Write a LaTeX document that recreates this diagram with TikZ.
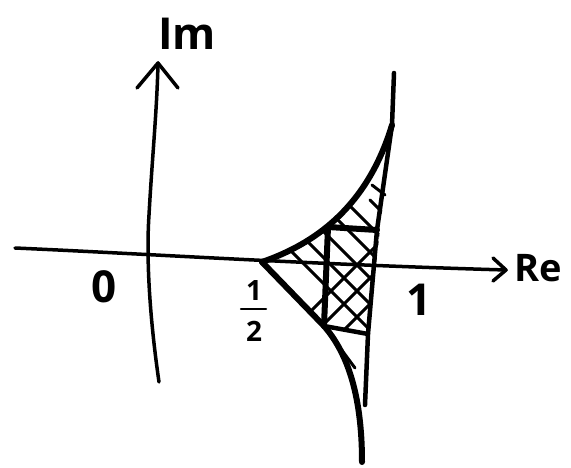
\documentclass[tikz,border=0pt]{standalone}
\usepackage{fontspec}
\setmainfont{Open Sans}
\begin{document}
\begin{tikzpicture}[x=1pt,y=-1pt, line cap=round, line join=round,
  axis/.style={line width=3.5pt},
  bold/.style={line width=6pt},
  mid/.style={line width=4.5pt},
  hatch/.style={line width=3pt},
  lab/.style={font=\fontsize{44}{44}\selectfont\bfseries, inner sep=0pt},
  small/.style={font=\fontsize{28}{28}\selectfont\bfseries, inner sep=0pt}]
\useasboundingbox (0,0) rectangle (571,468);
% axes
\coordinate (xl) at (15,248);
\coordinate (xr) at (506,270);
\coordinate (xa) at (493,258);
\coordinate (xb) at (493,281);
\draw[axis] (xl) .. controls (150,254) and (300,264) .. (xr);
\draw[axis] (xa) -- (xr) -- (xb);
\coordinate (yb) at (159,382);
\coordinate (ym) at (149,215);
\coordinate (yt) at (158,63);
\coordinate (ya) at (137,88);
\coordinate (yc) at (178,88);
\draw[axis] (yb) .. controls (150,320) and (146,260) .. (ym) .. controls (152,160) and (157,110) .. (yt);
\draw[axis] (ya) -- (yt) -- (yc);
% labels
\node[font=\fontsize{38}{38}\selectfont\bfseries, inner sep=0pt] (re) at (538,268) {Re};
\node[lab] (im) at (187,34) {Im};
\node[lab] (zero) at (104,287) {0};
\node[lab] (one) at (419,300) {1};
\node[small] (hnum) at (254,291) {1};
\node[small] (hden) at (254,331) {2};
\coordinate (fa) at (241,309);
\coordinate (fb) at (266,309);
\draw[line width=2.5pt] (fa) -- (fb);
% region points
\coordinate (H) at (262,262);
\coordinate (T) at (392,125);
\coordinate (Ttop) at (394,73);
\coordinate (R1) at (377,230);
\coordinate (R2) at (368,334);
\coordinate (Rb) at (365,405);
\coordinate (L1) at (328,227);
\coordinate (L2) at (324,326);
\coordinate (Bend) at (362,462);
% hatching
\begin{scope}
  \clip (H) .. controls (305,247) and (365,215) .. (T) -- (R2) -- (L2) -- cycle;
  \foreach \i in {0,...,8} {
    \draw[hatch] (240+\i*26,200) -- +(150,150);
    \draw[hatch] (262+\i*26,360) -- +(150,-150);
  }
\end{scope}
\draw[hatch] (338,345) -- (355,368);
\draw[hatch] (372,185) -- (385,195);
% outline
\draw[bold] (H) .. controls (305,247) and (365,215) .. (T);
\draw[mid] (Ttop) -- (T) -- (R1) -- (R2) -- (Rb);
\draw[bold] (H) -- (L2);
\draw[bold] (L2) .. controls (345,350) and (362,390) .. (Bend);
\draw[bold] (L1) -- (L2);
\draw[bold] (L1) -- (R1);
\draw[mid] (L2) -- (R2);
\end{tikzpicture}
\end{document}
